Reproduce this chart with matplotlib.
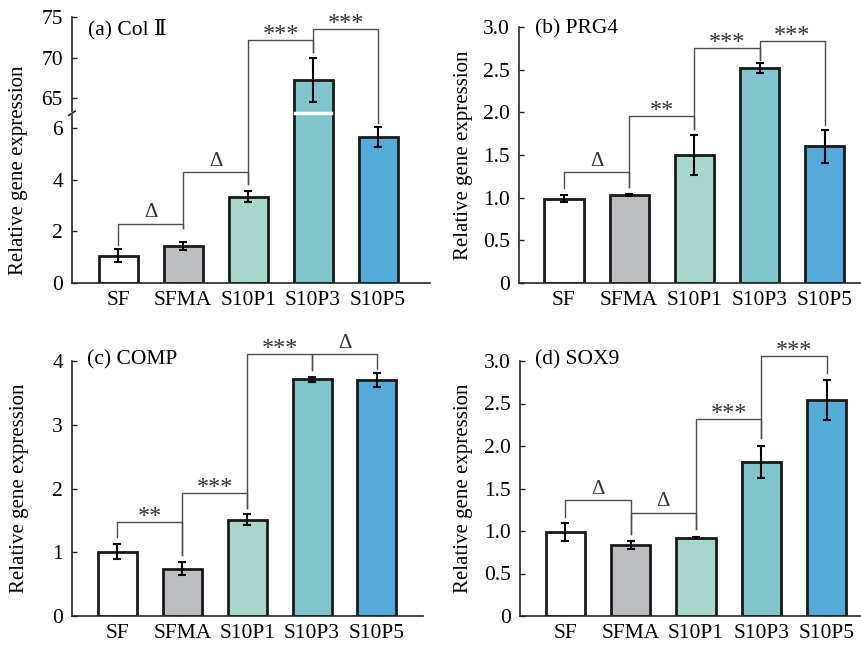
import numpy as np
import matplotlib
matplotlib.use("Agg")
import matplotlib.pyplot as plt

plt.rcParams['font.family'] = ['Liberation Serif', 'DejaVu Serif', 'Noto Sans CJK SC']
plt.rcParams['font.size'] = 15

# Datos
groups = ["SF", "SFMA", "S10P1", "S10P3", "S10P5"]
colors = ["#ffffff", "#bcbdc0", "#a8d6cc", "#7fc5ca", "#55abd8"]

col2_mean = [1.06, 1.44, 3.35, 67.2, 5.65]
col2_err = [0.26, 0.15, 0.21, 2.7, 0.38]
col2_brackets = [(0, 1, 2.30, "Δ"), (1, 2, 4.30, "Δ"), (2, 3, 72.2, "***"), (3, 4, 73.5, "***")]
col2_legs = [1.48, 2.13, 3.84, 70.7, 6.19]

prg4_mean = [0.99, 1.03, 1.50, 2.52, 1.60]
prg4_err = [0.04, 0.01, 0.235, 0.055, 0.195]
prg4_brackets = [(0, 1, 1.30, "Δ"), (1, 2, 1.956, "**"), (2, 3, 2.754, "***"), (3, 4, 2.836, "***")]
prg4_legs = [1.11, 1.13, 1.81, 2.61, 1.85]

comp_mean = [1.01, 0.74, 1.51, 3.71, 3.70]
comp_err = [0.115, 0.10, 0.09, 0.045, 0.105]
comp_brackets = [(0, 1, 1.467, "**"), (1, 2, 1.932, "***"), (2, 3, 4.11, "***"), (3, 4, 4.11, "Δ")]
comp_legs = [1.243, 0.956, 1.687, 3.864, 3.88]

sox9_mean = [0.986, 0.836, 0.923, 1.81, 2.544]
sox9_err = [0.105, 0.045, 0.008, 0.19, 0.235]
sox9_brackets = [(0, 1, 1.359, "Δ"), (1, 2, 1.217, "Δ"), (2, 3, 2.313, "***"), (3, 4, 3.059, "***")]
sox9_legs = [1.166, 0.97, 1.029, 2.089, 2.855]

half_ticks = [0, 0.5, 1.0, 1.5, 2.0, 2.5, 3.0]
half_labels = ["0", "0.5", "1.0", "1.5", "2.0", "2.5", "3.0"]

# Escala con corte para el panel (a)
brk_v = [-1000, 0, 6.5, 63.4, 75, 1000]
brk_f = [-25830, 0, 167.9, 172.0, 266.3, 7786]


def fwd(y):
    return np.interp(y, brk_v, brk_f)


def inv(f):
    return np.interp(f, brk_f, brk_v)


line_col = "#262626"


def draw_panel(ax, mean, err, brackets, legs, title, title_pos, label_pos, xlim):
    x = np.arange(len(groups))
    ax.bar(x, mean, width=0.6, color=colors, edgecolor="#1a1a1a", linewidth=2.0, zorder=2)
    ax.errorbar(x, mean, yerr=err, fmt="none", ecolor="black", elinewidth=1.5,
                capsize=3, capthick=1.5, zorder=3)
    for i, j, h, lab in brackets:
        ax.plot([i, i, j, j], [legs[i], h, h, legs[j]], color="#4d4d4d", lw=1.0,
                clip_on=False, zorder=1)
        if "*" in lab:
            off, fs = 0, 17.5
        else:
            off, fs = 4.5, 15
        ax.annotate(lab, xy=((i + j) / 2, h), xytext=(0, off), textcoords="offset points",
                    ha="center", va="baseline", fontsize=fs, color="#333333",
                    annotation_clip=False)
    ax.set_xticks(x)
    ax.set_xticklabels(groups)
    ax.set_xlim(*xlim)
    ax.tick_params(direction="in", length=3.5, width=1, labelsize=15.5, color=line_col)
    ax.tick_params(axis="y", pad=6.5)
    ax.tick_params(axis="x", pad=6)
    for s in ["top", "right"]:
        ax.spines[s].set_visible(False)
    for s in ["left", "bottom"]:
        ax.spines[s].set_color(line_col)
        ax.spines[s].set_linewidth(1.2)
    ax.set_ylabel("Relative gene expression", fontsize=15)
    ax.yaxis.set_label_coords(*label_pos)
    ax.text(title_pos[0], title_pos[1], title, transform=ax.transAxes, ha="left",
            va="center", fontsize=15.5)


fig = plt.figure(figsize=(8.61, 6.48), dpi=100)

# (a) Col II con eje cortado
ax_a = fig.add_axes([72 / 861, (648 - 283) / 648, (430 - 72) / 861, (283 - 17) / 648])
ax_a.set_yscale("function", functions=(fwd, inv))
draw_panel(ax_a, col2_mean, col2_err, col2_brackets, col2_legs, "(a) Col Ⅱ",
           (0.045, 0.955), (-0.122, 0.425), (-0.71, 4.80))
ax_a.set_ylim(0, 75)
ax_a.set_yticks([0, 2, 4, 6, 65, 70, 75])
ax_a.set_yticklabels(["0", "2", "4", "6", "65", "70", "75"])
ax_a.spines["left"].set_visible(False)
ytr = ax_a.get_yaxis_transform()
ax_a.plot([0, 0], [0, 6.5], transform=ytr, color=line_col, lw=1.2, clip_on=False)
ax_a.plot([0, 0], [63.4, 75], transform=ytr, color=line_col, lw=1.2, clip_on=False)
gap_frac = 170.0 / 266.3
ax_a.plot([-0.009, 0.009], [gap_frac - 0.008, gap_frac + 0.008], transform=ax_a.transAxes,
          color=line_col, lw=1.2, clip_on=False)
y_gap = inv(170.0)
ax_a.plot([3 - 0.28, 3 + 0.28], [y_gap, y_gap], color="white", lw=2.5, zorder=2.5)

# (b) PRG4
ax_b = fig.add_axes([519 / 861, (648 - 283) / 648, (860 - 519) / 861, (283 - 27) / 648])
draw_panel(ax_b, prg4_mean, prg4_err, prg4_brackets, prg4_legs, "(b) PRG4",
           (0.047, 0.992), (-0.135, 0.5), (-0.69, 4.54))
ax_b.set_ylim(0, 3.0)
ax_b.set_yticks(half_ticks)
ax_b.set_yticklabels(half_labels)

# (c) COMP
ax_c = fig.add_axes([72 / 861, (648 - 616) / 648, (423 - 72) / 861, (616 - 361) / 648])
draw_panel(ax_c, comp_mean, comp_err, comp_brackets, comp_legs, "(c) COMP",
           (0.043, 1.004), (-0.122, 0.5), (-0.70, 4.71))
ax_c.set_ylim(0, 4)
ax_c.set_yticks([0, 1, 2, 3, 4])

# (d) SOX9
ax_d = fig.add_axes([520 / 861, (648 - 616) / 648, (860 - 520) / 861, (616 - 361) / 648])
draw_panel(ax_d, sox9_mean, sox9_err, sox9_brackets, sox9_legs, "(d) SOX9",
           (0.044, 1.004), (-0.138, 0.5), (-0.69, 4.51))
ax_d.set_ylim(0, 3.0)
ax_d.set_yticks(half_ticks)
ax_d.set_yticklabels(half_labels)

fig.savefig("out.png", dpi=100)
